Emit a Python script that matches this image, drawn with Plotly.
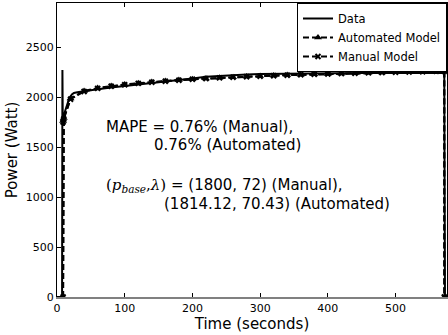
import plotly.graph_objects as go

# Measured power trace
data_t = [0, 7.5, 8, 8.5, 9.5, 12, 15, 18, 22, 25, 30, 40, 60, 80, 100, 120, 150, 180,
          200, 220, 250, 280, 300, 350, 400, 450, 500, 540, 565, 572, 573, 576]
data_p = [0, 0, 2270, 1780, 1790, 1860, 1930, 1985, 2025, 2040, 2048, 2060, 2078, 2095,
          2110, 2125, 2145, 2165, 2185, 2203, 2218, 2226, 2230, 2235, 2236, 2240, 2240,
          2244, 2242, 2240, 0, 0]

# Automated model (p_base=1814.12, lambda=70.43)
auto_t = [9, 9, 10, 20, 40, 60, 80, 100, 120, 140, 160, 180, 200, 220, 240, 260, 280,
          300, 320, 340, 360, 380, 400, 420, 440, 460, 480, 500, 520, 540, 560, 572, 572]
auto_p = [0, 1760, 1790, 1985, 2060, 2090, 2110, 2125, 2138, 2150, 2160, 2170, 2178,
          2185, 2192, 2198, 2204, 2209, 2214, 2219, 2223, 2227, 2231, 2235, 2238, 2242,
          2245, 2248, 2251, 2254, 2257, 2258, 0]

# Manual model (p_base=1800, lambda=72)
man_t = auto_t
man_p = [0, 1750, 1780, 1978, 2055, 2086, 2107, 2123, 2136, 2148, 2158, 2168, 2177,
         2184, 2191, 2197, 2203, 2208, 2213, 2218, 2222, 2226, 2230, 2234, 2238, 2241,
         2244, 2247, 2250, 2253, 2256, 2257, 0]

x_ticks = [0, 100, 200, 300, 400, 500]
y_ticks = [0, 500, 1000, 1500, 2000, 2500]

FONT = "DejaVu Sans"
SERIF = "DejaVu Serif"

fig = go.Figure()
fig.add_trace(go.Scatter(x=man_t, y=man_p, mode="lines+markers", name="Manual Model",
                         legendrank=3,
                         line=dict(color="black", width=2, dash="6px,3px"),
                         marker=dict(symbol="x-thin", size=5, color="black",
                                     line=dict(color="black", width=2))))
fig.add_trace(go.Scatter(x=data_t, y=data_p, mode="lines", name="Data", legendrank=1,
                         line=dict(color="black", width=2)))
fig.add_trace(go.Scatter(x=auto_t, y=auto_p, mode="lines+markers", name="Automated Model",
                         legendrank=2,
                         line=dict(color="black", width=2, dash="6px,3px"),
                         marker=dict(symbol="triangle-up", size=7, color="black")))
# dummy trace for top axis ticks
fig.add_trace(go.Scatter(x=[None], y=[None], xaxis="x2", showlegend=False, hoverinfo="skip"))

fig.update_layout(
    width=448, height=335,
    margin=dict(l=57, r=1, t=3, b=38),
    paper_bgcolor="white", plot_bgcolor="white",
    font=dict(family=FONT, color="black", size=11),
    showlegend=True,
    legend=dict(x=1, y=1, xanchor="right", yanchor="top", bordercolor="black",
                borderwidth=1, bgcolor="white", font=dict(size=11.5, family=FONT),
                tracegroupgap=0, itemwidth=30, traceorder="normal"),
    xaxis=dict(range=[0, 576], tickvals=x_ticks, ticks="inside", ticklen=4,
               tickcolor="black", showline=True, linecolor="gray", linewidth=2,
               showgrid=False, zeroline=False, tickfont=dict(size=11),
               title=dict(text="Time (seconds)", font=dict(size=15), standoff=0)),
    xaxis2=dict(range=[0, 576], overlaying="x", side="top", tickvals=x_ticks,
                ticks="inside", ticklen=4, tickcolor="black", showline=True,
                linecolor="black", linewidth=1, showticklabels=False, showgrid=False,
                zeroline=False),
    yaxis=dict(range=[0, 2940], tickvals=y_ticks, ticks="inside", ticklen=4,
               tickcolor="black", showline=True, linecolor="black", linewidth=1,
               mirror=True, showgrid=False, zeroline=False, tickfont=dict(size=11),
               title=dict(text="Power (Watt)", font=dict(size=15), standoff=4)),
)

ann_font = dict(family=FONT, size=15, color="black")
fig.add_annotation(x=69, y=1700, xref="x", yref="y", xanchor="left", yanchor="middle",
                   text="MAPE = 0.76% (Manual),", showarrow=False, font=ann_font)
fig.add_annotation(x=141, y=1520, xref="x", yref="y", xanchor="left", yanchor="middle",
                   text="0.76% (Automated)", showarrow=False, font=ann_font)
fig.add_annotation(x=69, y=1120, xref="x", yref="y", xanchor="left", yanchor="middle",
                   text=f"<span style=\"font-family:'{SERIF}'\">(<i>p</i><sub><i>base</i></sub>,<i>λ</i>)</span> = (1800, 72) (Manual),",
                   showarrow=False, font=ann_font)
fig.add_annotation(x=155, y=930, xref="x", yref="y", xanchor="left", yanchor="middle",
                   text="(1814.12, 70.43) (Automated)", showarrow=False, font=ann_font)

fig.write_html("out.html")
